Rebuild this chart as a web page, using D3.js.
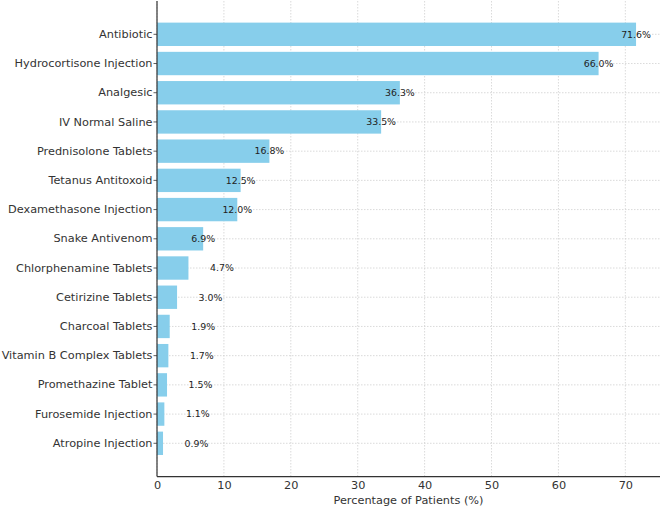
<!DOCTYPE html>
<html>
<head>
<meta charset="utf-8">
<script src="https://cdn.jsdelivr.net/npm/d3@7"></script>
<style>
  html, body { margin: 0; padding: 0; background: #fff; }
  svg { display: block; font-family: "DejaVu Sans", sans-serif; }
</style>
</head>
<body>
<svg id="chart" width="661" height="511"></svg>
<script>
const categories = [
  "Antibiotic", "Hydrocortisone Injection", "Analgesic", "IV Normal Saline",
  "Prednisolone Tablets", "Tetanus Antitoxoid", "Dexamethasone Injection",
  "Snake Antivenom", "Chlorphenamine Tablets", "Cetirizine Tablets",
  "Charcoal Tablets", "Vitamin B Complex Tablets", "Promethazine Tablet",
  "Furosemide Injection", "Atropine Injection"
];
const values = [71.6, 66.0, 36.3, 33.5, 16.8, 12.5, 12.0, 6.9, 4.7, 3.0, 1.9, 1.7, 1.5, 1.1, 0.9];
const xTicks = [0, 10, 20, 30, 40, 50, 60, 70];
const xLabel = "Percentage of Patients (%)";

(function () {
const svg = d3.select("#chart");
const mLeft = 157, mRight = 660, mTop = 1, mBottom = 476.6;
const textColor = "#333";

const x = d3.scaleLinear().domain([0, d3.max(values) * 1.05]).range([mLeft, mRight]);
const y = d3.scaleBand().domain(categories).range([mTop, mBottom])
  .paddingInner(0.2).paddingOuter(0.74).align(0.5);

const data = categories.map((c, i) => ({ cat: c, val: values[i] }));

// grid
const grid = svg.append("g");
grid.selectAll("line.v").data(xTicks).join("line")
  .attr("x1", d => x(d)).attr("x2", d => x(d))
  .attr("y1", mTop).attr("y2", mBottom)
  .attr("stroke", "#d0d0d0").attr("stroke-width", 0.8)
  .attr("stroke-dasharray", "1.5,1.5");
grid.selectAll("line.h").data(categories).join("line")
  .attr("x1", mLeft).attr("x2", mRight)
  .attr("y1", d => y(d) + y.bandwidth() / 2).attr("y2", d => y(d) + y.bandwidth() / 2)
  .attr("stroke", "#d0d0d0").attr("stroke-width", 0.8)
  .attr("stroke-dasharray", "1.5,1.5");

// bars
svg.append("g").selectAll("rect").data(data).join("rect")
  .attr("x", x(0))
  .attr("y", d => y(d.cat))
  .attr("width", d => x(d.val) - x(0))
  .attr("height", y.bandwidth())
  .attr("fill", "#87CEEB");

// value labels
svg.append("g").selectAll("text").data(data).join("text")
  .attr("x", d => x(d.val < 5 ? d.val + 5 : d.val))
  .attr("y", d => y(d.cat) + y.bandwidth() / 2)
  .attr("dy", "0.35em")
  .attr("text-anchor", "middle")
  .attr("font-size", "9.4px")
  .attr("fill", "#222")
  .text(d => d.val.toFixed(1) + "%");

// y axis
const yAxis = svg.append("g").attr("transform", `translate(${mLeft},0)`)
  .call(d3.axisLeft(y).tickSize(3.5).tickPadding(1));
yAxis.selectAll("text").attr("font-size", "11.3px").attr("fill", textColor)
  .attr("font-family", "DejaVu Sans, sans-serif");
yAxis.selectAll(".tick line").attr("stroke", textColor).attr("stroke-width", 0.8);
yAxis.select(".domain").remove();

// x axis
const xAxis = svg.append("g").attr("transform", `translate(0,${mBottom})`)
  .call(d3.axisBottom(x).tickValues(xTicks).tickSize(0).tickPadding(4).tickFormat(d3.format("d")));
xAxis.selectAll("text").attr("font-size", "11.3px").attr("fill", textColor)
  .attr("font-family", "DejaVu Sans, sans-serif");
xAxis.select(".domain").remove();

// spines
svg.append("line").attr("x1", mLeft).attr("x2", mLeft).attr("y1", mTop).attr("y2", mBottom)
  .attr("stroke", textColor).attr("stroke-width", 1.2);
svg.append("line").attr("x1", mLeft).attr("x2", mRight).attr("y1", mBottom).attr("y2", mBottom)
  .attr("stroke", textColor).attr("stroke-width", 1.2);

// x label
svg.append("text")
  .attr("x", (mLeft + mRight) / 2).attr("y", 504)
  .attr("text-anchor", "middle")
  .attr("font-size", "11.3px").attr("fill", textColor)
  .text(xLabel);
})();
</script>
</body>
</html>
